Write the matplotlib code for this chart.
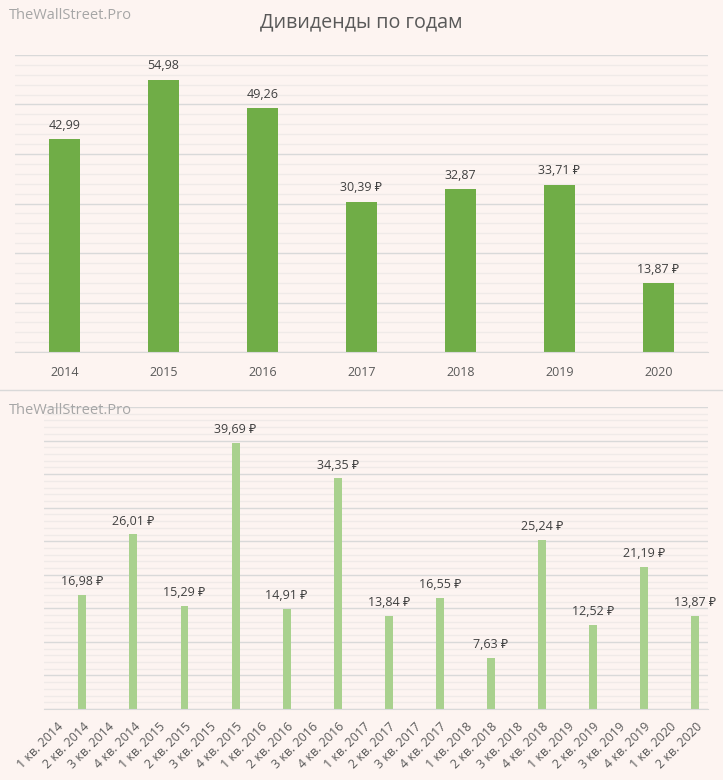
import matplotlib
matplotlib.use("Agg")
import matplotlib.pyplot as plt
from matplotlib.ticker import MultipleLocator
from matplotlib.lines import Line2D

plt.rcParams['font.family'] = ['Open Sans', 'Noto Sans', 'DejaVu Sans']

years = ["2014", "2015", "2016", "2017", "2018", "2019", "2020"]
year_values = [42.99, 54.98, 49.26, 30.39, 32.87, 33.71, 13.87]
year_labels = ["42,99", "54,98", "49,26", "30,39 ₽", "32,87", "33,71 ₽", "13,87 ₽"]

quarters = [f"{q} кв. {y}" for y in range(2014, 2021) for q in range(1, 5)][:26]
quarter_values = [0, 16.98, 0, 26.01, 0, 15.29, 0, 39.69, 0, 14.91, 0, 34.35, 0,
                  13.84, 0, 16.55, 0, 7.63, 0, 25.24, 0, 12.52, 0, 21.19, 0, 13.87]

BG = "#FDF4F1"
TXT = "#595959"
fig = plt.figure(figsize=(7.23, 7.80), dpi=100, facecolor=BG)

def style(ax, ymax, major, minor):
    ax.set_facecolor(BG)
    ax.set_ylim(0, ymax)
    ax.yaxis.set_major_locator(MultipleLocator(major))
    ax.yaxis.set_minor_locator(MultipleLocator(minor))
    ax.grid(axis='y', which='major', color='#D9D9D9', lw=1)
    ax.grid(axis='y', which='minor', color='#F0EAE8', lw=1)
    ax.set_axisbelow(True)
    for s in ['top', 'right', 'left']:
        ax.spines[s].set_visible(False)
    ax.spines['bottom'].set_color('#D9D9D9')
    ax.tick_params(axis='y', which='both', left=False, labelleft=False)
    ax.tick_params(axis='x', length=0, colors=TXT)

# Top chart
ax1 = fig.add_axes([0.0207, 0.5487, 0.9585, 0.3808])
style(ax1, 60, 10, 2)
x1 = range(len(years))
bars = ax1.bar(x1, year_values, width=0.31, color="#70AD47")
ax1.set_xlim(-0.5, len(years) - 0.5)
ax1.set_xticks(list(x1))
ax1.set_xticklabels(years, fontsize=9, color=TXT)
ax1.tick_params(axis='x', pad=10)
for b, lab in zip(bars, year_labels):
    ax1.annotate(lab, (b.get_x() + b.get_width() / 2, b.get_height()),
                 xytext=(0, 5.5), textcoords='offset points', ha='center', va='bottom',
                 fontsize=9, color="#404040")

fig.text(0.5, 0.971, "Дивиденды по годам", ha='center', va='center', fontsize=14.2, color=TXT)
fig.text(0.012, 0.980, "TheWallStreet.Pro", ha='left', va='center', fontsize=10.5, color="#A6A6A6")

# separator
fig.add_artist(Line2D([0, 1], [1 - 390 / 780, 1 - 390 / 780], color="#D9D9D9", lw=1))
fig.text(0.012, 0.474, "TheWallStreet.Pro", ha='left', va='center', fontsize=10.5, color="#A6A6A6")

# Bottom chart
ax2 = fig.add_axes([0.0609, 0.0910, 0.9184, 0.3872])
style(ax2, 45, 5, 1)
x2 = range(len(quarters))
bars2 = ax2.bar(x2, quarter_values, width=0.31, color="#A9D18E")
ax2.set_xlim(-0.5, len(quarters) - 0.5)
ax2.set_xticks(list(x2))
ax2.set_xticklabels(quarters, rotation=45, ha='right', rotation_mode='anchor',
                    fontsize=9, color=TXT)
ax2.tick_params(axis='x', pad=8)
for b, v in zip(bars2, quarter_values):
    if v > 0:
        ax2.annotate(f"{v:.2f}".replace('.', ',') + " ₽",
                     (b.get_x() + b.get_width() / 2, v),
                     xytext=(0, 5), textcoords='offset points', ha='center', va='bottom',
                     fontsize=9, color="#404040")

fig.savefig("out.png", dpi=100, facecolor=BG)
